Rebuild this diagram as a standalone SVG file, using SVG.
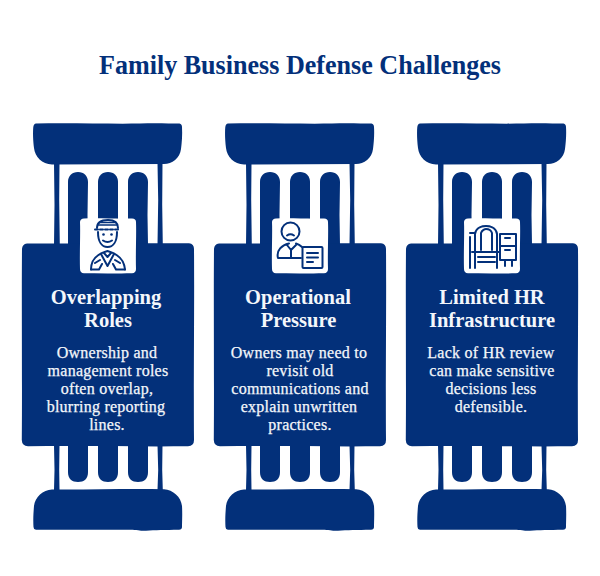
<svg xmlns="http://www.w3.org/2000/svg" width="600" height="576" viewBox="0 0 600 576">
<style>
text{font-family:"Liberation Serif","DejaVu Serif",serif;text-anchor:middle}
.t{font-size:27px;font-weight:700;fill:#03307a}
.h{font-size:20.500px;font-weight:700;fill:#f4f7fb}
.b{font-size:16px;letter-spacing:.25px;fill:#f4f7fb;stroke:#f4f7fb;stroke-width:.25px}
.n{fill:#03307a}
.w{fill:#fff}
.i{fill:none;stroke:#03307a;stroke-width:2;stroke-linecap:round;stroke-linejoin:round}
</style>
<defs>
<g id="pillar">
<path class="n" d="M36 123.500C70 122.800 110 124 140 123.500C155 122.800 170 123.500 179.500 123.500Q182 124 182 127C182.500 135 181.800 143 181 149C180 158 172 164 164 164L52 164.500C42 164 35 157 34 148C33 140 32.800 132 33.300 127Q33.800 123.800 36 123.500Z"/>
<path class="n" d="M54 163H59.500L59.200 200L59.800 245H54L54.500 205Z"/>
<path class="n" d="M157.500 163H162.500L162.200 205L162.800 245H157.500L158.200 200Z"/>
<path class="n" d="M68 182C68 176 72 172 78 172C84 172 88 176 88 182L87.500 215L88 245H68Z"/>
<path class="n" d="M98 182C98 176 102 172 108 172C114 172 118 176 118 182L118 245H98Z"/>
<path class="n" d="M128 182C128 176 132 172 138 172C144 172 148 176 148 182L147.500 215L148 245H128Z"/>
<path class="n" d="M27 243.500C70 244 130 242.800 189 243.300Q194 243.800 194 249C194.500 300 193.500 380 194 440Q194 446 188 446.300C130 446.800 80 445.500 28 446.300Q22 446 21.800 440C22.300 380 21.500 300 22 249Q22.300 244 27 243.500Z"/>
<path class="n" d="M54 445H59.500L59.200 470L59.500 490H54L54.500 470Z"/>
<path class="n" d="M157.500 445H162.500L162.200 470L162.800 490H157.500L158.200 470Z"/>
<path class="n" d="M68 445H88L88 472C88 479 84 482 78 482C72 482 68 479 68 472Z"/>
<path class="n" d="M98 445H118L118 472C118 479 114 482 108 482C102 482 98 479 98 472Z"/>
<path class="n" d="M128 445H148L148 472C148 479 144 482 138 482C132 482 128 479 128 472Z"/>
<path class="n" d="M52 489.500C90 489.800 130 488.500 164 489.300C173 489.800 181 497 182 506C182.500 514 182 522 182 527Q182 529.500 179 529.800C165 530 155 530 146 530.800C140 531 138 530 130 529.800C100 530 60 529.500 36 529.800Q33.500 529.500 33.500 527C33 520 33.500 512 34 506C35 497 43 490 52 489.500Z"/>
</g>
<path id="plate" class="w" d="M84 218.500C100 218 118 219 132 218.500Q136 218.800 136 222C136.500 235 135.500 255 136 269Q136 273 132 273.300C115 273.800 100 272.800 84 273.300Q80 273 80 269C79.500 255 80.500 235 80 222Q80.300 218.800 84 218.500Z"/>
</defs>
<text class="t" x="300" y="74" textLength="402" lengthAdjust="spacingAndGlyphs">Family Business Defense Challenges</text>
<g id="node-overlapping-roles">
<use href="#pillar"/><use href="#plate"/>
<g class="i">
<path d="M98 232C98 242 102 247 107.500 247C113 247 117 242 117 232"/>
<path d="M97 228C97 222 102 220 108 220C113 220 118 222 118 228"/>
<path d="M98 225H117M100 222.500H115" stroke-width="1.600"/>
<path d="M95 229.500H120" stroke-dasharray="3 2"/>
<path d="M103 240.500Q107.500 243.500 112 240.500"/>
<path d="M91 269.500C91 259 97 254 107.500 251C118 254 124 259 125 269.500"/>
<path d="M91 269.500H99L102 264M125 269.500H116L113 264M101 254L107.500 266L114 254M104 253L107.500 257L111 253M95 263L100 260M120 263L115 260"/>
</g>
<circle class="n" cx="103.500" cy="234.500" r="1.300"/><circle class="n" cx="111.500" cy="234.500" r="1.300"/>
<text class="h"><tspan x="106" y="304">Overlapping</tspan><tspan x="108" y="327">Roles</tspan></text>
<text class="b"><tspan x="107" y="358">Ownership and</tspan><tspan x="108" y="376">management roles</tspan><tspan x="107" y="394">often overlap,</tspan><tspan x="106" y="412">blurring reporting</tspan><tspan x="107" y="430">lines.</tspan></text>
</g>
<g id="node-operational-pressure">
<g transform="translate(192 0)"><use href="#pillar"/><use href="#plate"/></g>
<g class="i">
<circle cx="290.500" cy="231.500" r="9"/>
<path d="M287 235.500Q290.500 233 294 235.500" />
<path d="M301 258H278C276 250 282 245 289 243.500M296 243.500C298 244 300 245 302 247"/>
<path d="M287 245L291 250L296 245M291 250V258"/>
<rect x="302.500" y="247" width="20" height="21" rx="1"/>
<path d="M307 253H318M307 257.500H318M307 262H313"/>
</g>
<text class="h"><tspan x="298" y="304">Operational</tspan><tspan x="298.500" y="327">Pressure</tspan></text>
<text class="b"><tspan x="299" y="358">Owners may need to</tspan><tspan x="300" y="376">revisit old</tspan><tspan x="300" y="394">communications and</tspan><tspan x="299" y="412">explain unwritten</tspan><tspan x="300" y="430">practices.</tspan></text>
</g>
<g id="node-limited-hr-infrastructure">
<g transform="translate(384 0)"><use href="#pillar"/><use href="#plate"/></g>
<g class="i">
<path d="M470 237V268M470 233H475M475 268V234C476 227 483 226 486 226C489 226 496 227 497 234V268"/>
<path d="M481 250V233C482 230 485 229 486 229C488 229 491 230 492 233V250"/>
<path d="M472 252H499M478 257H495M478 262H495"/>
<path d="M500 234H516V260H500ZM500 246H516M505 260V266M512 260V266"/>
<path d="M505 238H510M505 250H510"/>
</g>
<text class="h"><tspan x="492" y="304">Limited HR</tspan><tspan x="492" y="327">Infrastructure</tspan></text>
<text class="b"><tspan x="491" y="358">Lack of HR review</tspan><tspan x="492" y="376">can make sensitive</tspan><tspan x="491" y="394">decisions less</tspan><tspan x="491" y="412">defensible.</tspan></text>
</g>
</svg>
